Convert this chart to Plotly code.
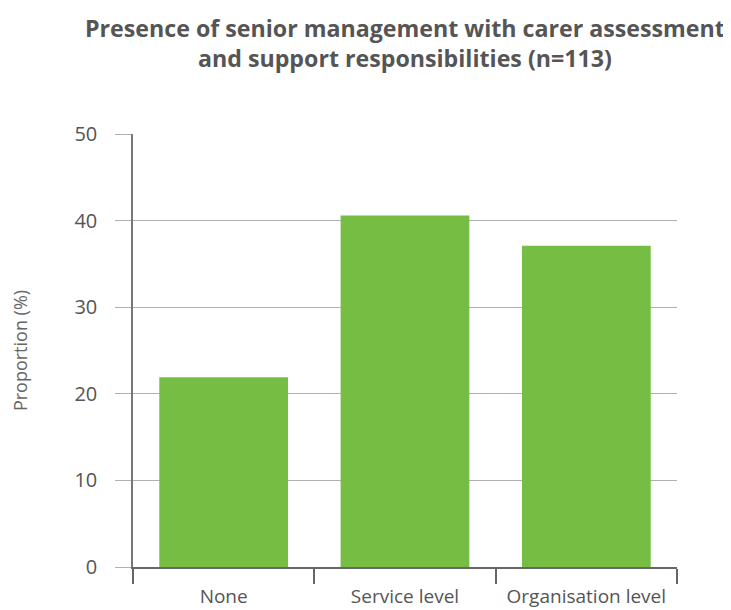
import plotly.graph_objects as go

categories = ["None", "Service level", "Organisation level"]
values = [21.9, 40.6, 37.1]
y_ticks = [0, 10, 20, 30, 40, 50]
title_text = "<b>Presence of senior management with carer assessment<br>and support responsibilities (n=113)</b>"

fig = go.Figure(go.Bar(
    x=categories, y=values,
    marker=dict(color="#76bd43", line=dict(width=0)),
    hoverinfo="x+y",
))

fig.update_layout(
    width=731, height=610,
    margin=dict(l=125, r=62, t=126, b=51),
    paper_bgcolor="white", plot_bgcolor="white",
    bargap=0.29,
    showlegend=False,
    font=dict(family="Open Sans, Lato, sans-serif", color="#555555"),
    annotations=[dict(
        text=title_text, showarrow=False,
        xref="paper", yref="paper", x=0.5, y=1, xanchor="center", yanchor="middle",
        yshift=91,
        font=dict(family="Open Sans, Lato, sans-serif", size=23.2, color="#555555"),
    )],
)

fig.update_xaxes(
    type="category",
    automargin=False,
    tickson="boundaries",
    ticks="outside", ticklen=15, tickwidth=1.5, tickcolor="#666666",
    showline=True, linecolor="#666666", linewidth=1.5,
    showgrid=False,
    tickfont=dict(size=19, color="#555555"),
    ticklabelstandoff=11,
)

fig.update_yaxes(
    automargin=False,
    range=[0, 50], tickvals=y_ticks,
    ticks="outside", ticklen=16, tickwidth=1.2, tickcolor="#b0b0b0",
    showgrid=True, gridcolor="#b0b0b0", gridwidth=1.2,
    showline=True, linecolor="#777777", linewidth=1.5,
    zeroline=False,
    tickfont=dict(size=20, color="#555555"),
    ticklabelstandoff=14,
    title=dict(text="Proportion (%)", font=dict(size=18, color="#666666"), standoff=42),
)

fig.write_html("out.html")
